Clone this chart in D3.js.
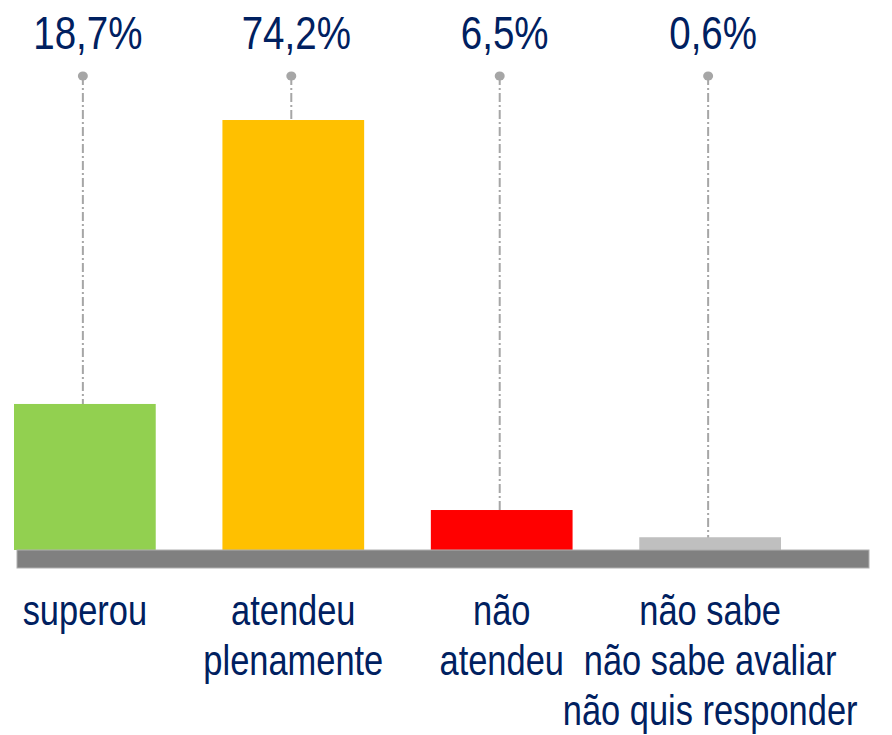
<!DOCTYPE html>
<html>
<head>
<meta charset="utf-8">
<script src="https://cdn.jsdelivr.net/npm/d3@7"></script>
<style>
  html, body { margin: 0; padding: 0; background: #fff; }
  svg text { font-family: "Liberation Sans", Arial, sans-serif; fill: #002060; }
</style>
</head>
<body>
<div id="chart"></div>
<script>
// categories (each line of a label is one entry)
var categories = [
  ["superou"],
  ["atendeu", "plenamente"],
  ["não", "atendeu"],
  ["não sabe", "não sabe avaliar", "não quis responder"]
];
// printed labels
var valueLabels = ["18,7%", "74,2%", "6,5%", "0,6%"];
// bar lengths as drawn in the picture (same percent axis)
var barValues = [25.2, 74.2, 6.9, 2.2];
var barColors = ["#92d050", "#ffc000", "#ff0000", "#bfbfbf"];

(function () {
  'use strict'
  var width = 892, height = 735;
  var narrow = 0.82; // no narrow font installed, squeeze the text instead
  var svg = d3.select("#chart").append("svg")
      .attr("width", width)
      .attr("height", height);

  var keys = categories.map(function (c) { return c.join(" "); });
  var x = d3.scaleBand().domain(keys).range([14, 781]).paddingInner(0.32).paddingOuter(0);
  var y = d3.scaleLinear().domain([0, 80]).range([550, 86.4]);

  var data = keys.map(function (k, i) {
    return { key: k, lines: categories[i], label: valueLabels[i], v: barValues[i], color: barColors[i] };
  });

  var cx = function (d) { return x(d.key) + x.bandwidth() / 2; };

  // leader lines (behind bars)
  var lead = svg.append("g").attr("class", "leaders");
  lead.selectAll("line")
    .data(data).enter().append("line")
    .attr("x1", function (d) { return cx(d) - 2; })
    .attr("x2", function (d) { return cx(d) - 2; })
    .attr("y1", 76)
    .attr("y2", y(0))
    .attr("stroke", "#a6a6a6")
    .attr("stroke-width", 2)
    .attr("stroke-dasharray", "9,3,2,3");
  lead.selectAll("ellipse")
    .data(data).enter().append("ellipse")
    .attr("cx", function (d) { return cx(d) - 2; })
    .attr("cy", 76)
    .attr("rx", 5).attr("ry", 4.5)
    .attr("fill", "#a6a6a6");

  // bars
  svg.append("g").selectAll("rect")
    .data(data).enter().append("rect")
    .attr("x", function (d) { return x(d.key); })
    .attr("y", function (d) { return y(d.v); })
    .attr("width", x.bandwidth())
    .attr("height", function (d) { return y(0) - y(d.v); })
    .attr("fill", function (d) { return d.color; });

  // base bar
  svg.append("rect")
    .attr("x", 17).attr("y", y(0))
    .attr("width", 852).attr("height", 18)
    .attr("fill", "#808080")
    .attr("stroke", "#b0b0b0").attr("stroke-width", 1);

  // value labels
  svg.append("g").selectAll("text")
    .data(data).enter().append("text")
    .attr("transform", function (d) { return "translate(" + (cx(d) + 3) + ",49) scale(" + narrow + ",1)"; })
    .attr("text-anchor", "middle")
    .style("font-size", "47px")
    .text(function (d) { return d.label; });

  // category labels
  var cat = svg.append("g").selectAll("text")
    .data(data).enter().append("text")
    .attr("transform", function (d) { return "translate(" + cx(d) + ",625) scale(" + narrow + ",1)"; })
    .attr("text-anchor", "middle")
    .style("font-size", "42px");
  cat.selectAll("tspan")
    .data(function (d) { return d.lines; })
    .enter().append("tspan")
    .attr("x", 0)
    .attr("y", function (t, i) { return i * 50; })
    .text(function (t) { return t; });
})()
</script>
</body>
</html>
